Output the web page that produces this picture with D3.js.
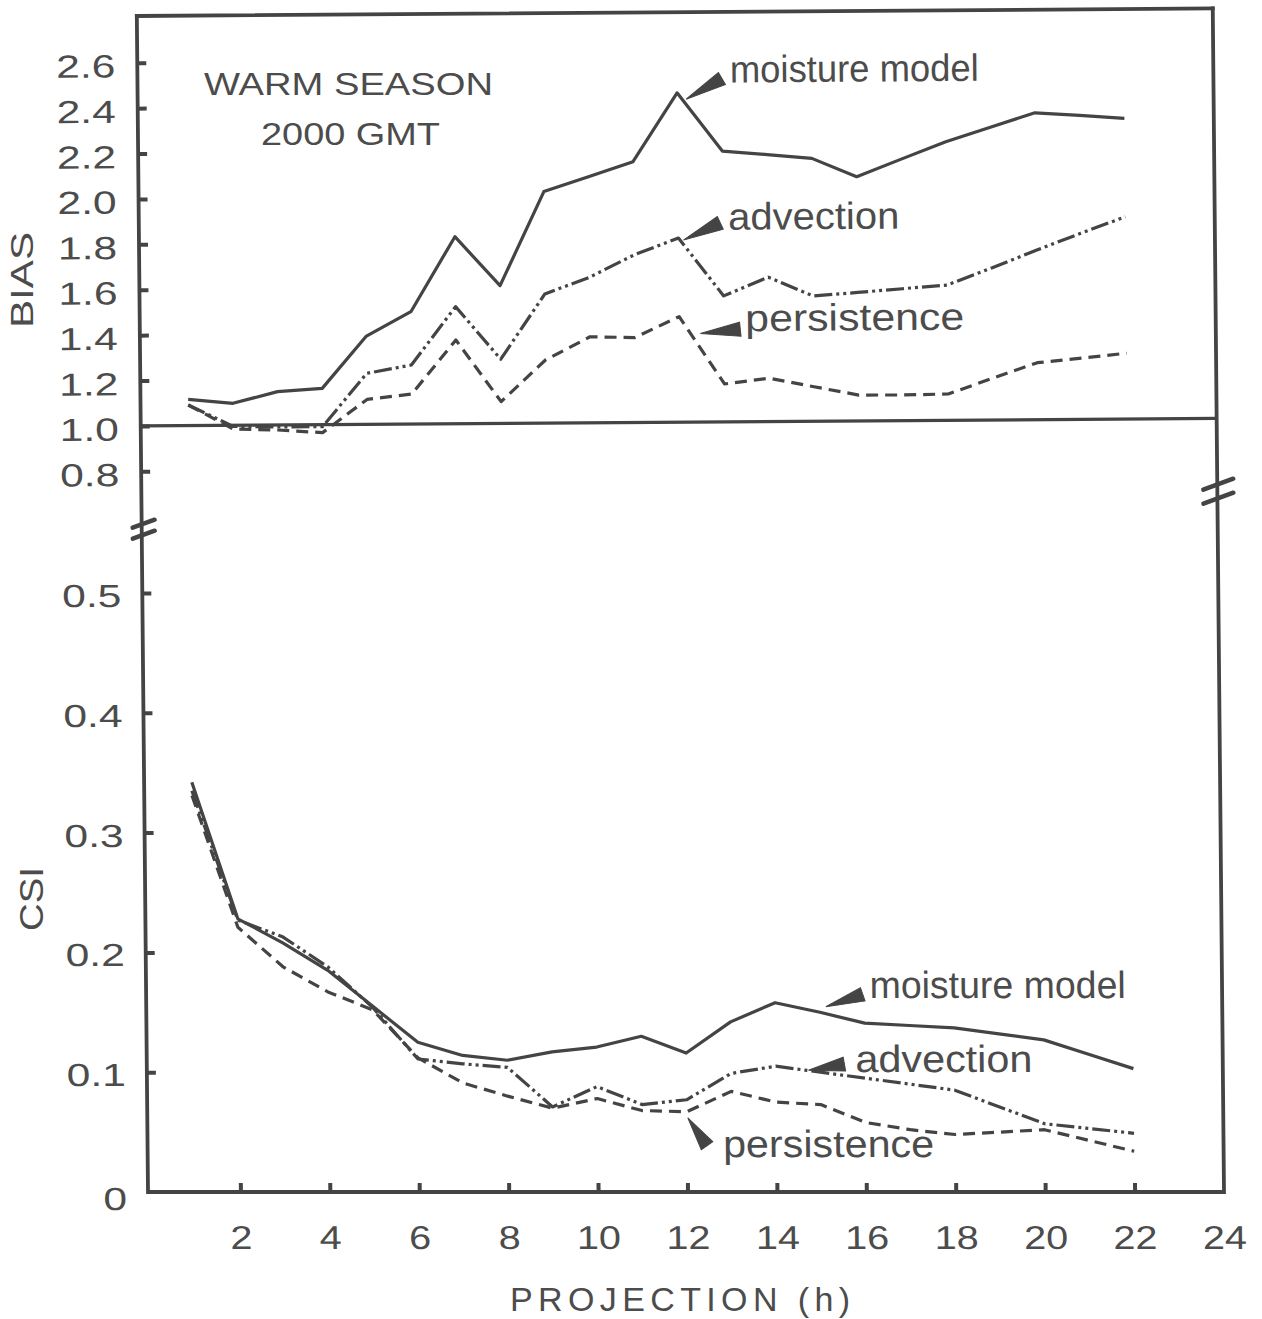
<!DOCTYPE html>
<html>
<head>
<meta charset="utf-8">
<script src="https://cdn.jsdelivr.net/npm/d3@7"></script>
<style>
  html, body { margin: 0; padding: 0; background: #ffffff; }
  svg { display: block; }
</style>
</head>
<body>
<svg id="chart" width="1262" height="1319"></svg>
<script>
// Forecast projection hours (1 h .. 22 h)
const hours = d3.range(1, 23);

// BIAS by projection hour
const biasMoisture    = [1.116, 1.097, 1.147, 1.160, 1.389, 1.495, 1.824, 1.607, 2.020, 2.084, 2.149,
                         2.451, 2.193, 2.176, 2.158, 2.076, 2.152, 2.227, 2.290, 2.352, 2.339, 2.325];
const biasAdvection   = [1.091, 0.995, 0.992, 0.991, 1.225, 1.260, 1.516, 1.283, 1.569, 1.641, 1.738,
                         1.811, 1.555, 1.636, 1.552, 1.566, 1.581, 1.596, 1.670, 1.746, 1.820, 1.891];
const biasPersistence = [1.091, 0.984, 0.978, 0.965, 1.110, 1.132, 1.369, 1.096, 1.278, 1.379, 1.374,
                         1.465, 1.167, 1.191, 1.152, 1.114, 1.113, 1.116, 1.184, 1.251, 1.270, 1.290];

// Critical success index by projection hour
const csiMoisture     = [0.342, 0.228, 0.208, 0.185, 0.155, 0.125, 0.114, 0.110, 0.117, 0.121, 0.130,
                         0.116, 0.142, 0.158, 0.150, 0.141, 0.139, 0.137, 0.132, 0.127, 0.115, 0.103];
const csiAdvection    = [0.335, 0.227, 0.213, 0.188, 0.154, 0.111, 0.107, 0.104, 0.071, 0.088, 0.073,
                         0.077, 0.099, 0.105, 0.100, 0.095, 0.090, 0.085, 0.071, 0.057, 0.053, 0.049];
const csiPersistence  = [0.331, 0.221, 0.188, 0.167, 0.152, 0.112, 0.091, 0.080, 0.070, 0.078, 0.068,
                         0.067, 0.084, 0.075, 0.073, 0.058, 0.052, 0.048, 0.050, 0.052, 0.043, 0.034];

// Axis ticks
const biasTicks = [0.8, 1.0, 1.2, 1.4, 1.6, 1.8, 2.0, 2.2, 2.4, 2.6];
const csiTicks  = [0, 0.1, 0.2, 0.3, 0.4, 0.5];
const hourTicks = [2, 4, 6, 8, 10, 12, 14, 16, 18, 20, 22, 24];

// ---------------------------------------------------------------
const W = 1262, H = 1319;
const INK = "#444444", TEXT = "#4c4c4c";
const FONT = "'Liberation Sans', Arial, Helvetica, sans-serif";
const NARROW = "'Liberation Sans Narrow', 'Liberation Sans', Arial, sans-serif";

const svg = d3.select("#chart");
svg.append("rect").attr("width", W).attr("height", H).attr("fill", "#ffffff");

const L = 148, T = 16, B = 1192;
const x = d3.scaleLinear().domain([0, 24]).range([151, 1224]);
const R = x(24);
const yBias = d3.scaleLinear().domain([0.8, 2.6]).range([471.4, 62.8]);
const yCsi = d3.scaleLinear().domain([0, 0.5]).range([B, 593]);

// the printed figure leans slightly: a gentle shear for the whole sheet,
// plus a small tilt of the upper (BIAS) panel
const kx = 0.0095, ky = -0.007, pivotX = 143;
const page = svg.append("g").attr("transform", `matrix(1,0,${kx},1,${-kx * B},0)`);
const upper = page.append("g").attr("transform", `matrix(1,${ky},0,1,0,${-ky * pivotX})`);
const lower = page.append("g");

// ---- frame -----------------------------------------------------
const topAt = xx => T + ky * (xx - pivotX);
page.append("path")
  .attr("d", `M${L},${topAt(L)}V${B}H${R}V${topAt(R)}`)
  .attr("fill", "none").attr("stroke", INK).attr("stroke-width", 3.8)
  .attr("stroke-linejoin", "miter").attr("stroke-linecap", "square");
upper.append("line")
  .attr("x1", L).attr("x2", R).attr("y1", T).attr("y2", T)
  .attr("stroke", INK).attr("stroke-width", 3.8).attr("stroke-linecap", "square");

// reference line BIAS = 1.0
upper.append("line")
  .attr("x1", L).attr("x2", R).attr("y1", yBias(1)).attr("y2", yBias(1))
  .attr("stroke", INK).attr("stroke-width", 3.2);

// axis break marks between the two panels
function breakMarks(cx, cy, gap, half, rise) {
  [-gap / 2, gap / 2].forEach(o => {
    page.append("line")
      .attr("x1", cx - half).attr("y1", cy + o + rise)
      .attr("x2", cx + half).attr("y2", cy + o - rise)
      .attr("stroke", INK).attr("stroke-width", 4.5).attr("stroke-linecap", "round");
  });
}
const breakY = (yBias(0.8) + yCsi(0.5)) / 2;
breakMarks(L + 2, breakY - 3, 11, 11, 4);
breakMarks(R + 1, breakY - 41, 14, 15, 5.5);

// ---- helpers -----------------------------------------------------
function stretch(sel, factor) {
  sel.each(function () {
    const n = this.getComputedTextLength();
    this.setAttribute("textLength", n * factor);
    this.setAttribute("lengthAdjust", "spacingAndGlyphs");
  });
}
function styleAxis(g, size) {
  g.select(".domain").remove();
  g.selectAll(".tick line").attr("stroke", INK).attr("stroke-width", 4);
  g.selectAll(".tick text")
    .attr("fill", TEXT).attr("font-family", FONT).attr("font-size", size);
}

// ---- axes --------------------------------------------------------
const fmt1 = d3.format(".1f");

const biasAxis = upper.append("g")
  .attr("transform", `translate(${L},0)`)
  .call(d3.axisLeft(yBias).tickValues(biasTicks).tickFormat(fmt1)
    .tickSizeInner(-9).tickSizeOuter(0).tickPadding(22));
styleAxis(biasAxis, 32);
biasAxis.selectAll(".tick text").attr("dy", 14);
stretch(biasAxis.selectAll(".tick text"), 1.33);

const csiAxis = lower.append("g")
  .attr("transform", `translate(${L},0)`)
  .call(d3.axisLeft(yCsi).tickValues(csiTicks).tickFormat(d => d === 0 ? "0" : fmt1(d))
    .tickSizeInner(-9).tickSizeOuter(0).tickPadding(21));
styleAxis(csiAxis, 32);
csiAxis.selectAll(".tick").filter(d => d === 0).select("line").remove();
csiAxis.selectAll(".tick text").attr("dy", d => d === 0 ? 17 : 13.5);
stretch(csiAxis.selectAll(".tick text"), 1.33);

const xAxis = page.append("g")
  .attr("transform", `translate(0,${B})`)
  .call(d3.axisBottom(x).tickValues(hourTicks).tickFormat(d3.format("d"))
    .tickSizeInner(-9).tickSizeOuter(0));
styleAxis(xAxis, 33);
xAxis.selectAll(".tick").filter(d => d === 24).select("line").remove();
xAxis.selectAll(".tick text").attr("y", 57.5).attr("dy", 0);
stretch(xAxis.selectAll(".tick text"), 1.2);

// ---- series ------------------------------------------------------
const series = [
  { name: "persistence",    bias: biasPersistence, csi: csiPersistence, dash: "12,7" },
  { name: "advection",      bias: biasAdvection,   csi: csiAdvection,   dash: "18,4,3,4,3,4" },
  { name: "moisture model", bias: biasMoisture,    csi: csiMoisture,    dash: null }
];

const lineBias = d3.line().x((d, i) => x(hours[i])).y(d => yBias(d));
const lineCsi  = d3.line().x((d, i) => x(hours[i])).y(d => yCsi(d));

series.forEach(s => {
  [[upper, lineBias, s.bias], [lower, lineCsi, s.csi]].forEach(([g, gen, vals]) => {
    g.append("path")
      .attr("d", gen(vals))
      .attr("fill", "none").attr("stroke", INK).attr("stroke-width", 3.2)
      .attr("stroke-linejoin", "round")
      .attr("stroke-dasharray", s.dash);
  });
});

// ---- annotations (arrow + label hung on a data point) --------------
const byName = Object.fromEntries(series.map(s => [s.name, s]));
const notes = [
  { panel: "bias", name: "moisture model", hour: 12, tip: [9, 6.5],  base: [45, -14], text: [53, -10], len: 249 },
  { panel: "bias", name: "advection",      hour: 12, tip: [5, 2],    base: [42, -15], text: [50, -8],  len: 171 },
  { panel: "bias", name: "persistence",    hour: 12, tip: [21, 17],  base: [61, 13],  text: [66, 15],  len: 219 },
  { panel: "csi",  name: "moisture model", hour: 15, tip: [6, -5.5], base: [43, -18], text: [50, -14], len: 256 },
  { panel: "csi",  name: "advection",      hour: 15, tip: [-12, -2], base: [24, -8],  text: [35, 0],   len: 177 },
  { panel: "csi",  name: "persistence",    hour: 12, tip: [1, 6],    base: [20, 34],  text: [36, 45],  len: 211 }
];

notes.forEach(n => {
  const s = byName[n.name];
  const i = hours.indexOf(n.hour);
  const g = n.panel === "bias" ? upper : lower;
  const px = x(n.hour);
  const py = n.panel === "bias" ? yBias(s.bias[i]) : yCsi(s.csi[i]);
  const tip = [px + n.tip[0], py + n.tip[1]];
  const bc = [px + n.base[0], py + n.base[1]];
  const dx = bc[0] - tip[0], dy = bc[1] - tip[1];
  const len = Math.hypot(dx, dy), hw = 7;
  const nx = -dy / len * hw, ny = dx / len * hw;
  g.append("path")
    .attr("d", `M${tip[0]},${tip[1]}L${bc[0] + nx},${bc[1] + ny}L${bc[0] - nx},${bc[1] - ny}Z`)
    .attr("fill", INK).attr("stroke", INK).attr("stroke-width", 1).attr("stroke-linejoin", "miter");
  g.append("text")
    .attr("x", px + n.text[0]).attr("y", py + n.text[1])
    .attr("font-family", NARROW).attr("font-size", 38).attr("fill", TEXT)
    .attr("textLength", n.len).attr("lengthAdjust", "spacingAndGlyphs")
    .text(n.name);
});

// ---- titles --------------------------------------------------------
const titles = svg.append("g").attr("font-family", FONT).attr("fill", TEXT);
titles.append("text").attr("x", 204).attr("y", 95).attr("font-size", 32)
  .attr("textLength", 289).attr("lengthAdjust", "spacingAndGlyphs").text("WARM SEASON");
titles.append("text").attr("x", 261).attr("y", 145).attr("font-size", 32)
  .attr("textLength", 179).attr("lengthAdjust", "spacingAndGlyphs").text("2000 GMT");

titles.append("text").attr("transform", "translate(33,280) rotate(-90)")
  .attr("text-anchor", "middle").attr("font-size", 32)
  .attr("textLength", 96).attr("lengthAdjust", "spacingAndGlyphs").text("BIAS");
titles.append("text").attr("transform", "translate(43,899) rotate(-90)")
  .attr("text-anchor", "middle").attr("font-size", 34)
  .attr("textLength", 64).attr("lengthAdjust", "spacingAndGlyphs").text("CSI");

titles.append("text").attr("x", 510).attr("y", 1311).attr("font-size", 34)
  .attr("textLength", 340).attr("lengthAdjust", "spacing").text("PROJECTION (h)");
</script>
</body>
</html>
